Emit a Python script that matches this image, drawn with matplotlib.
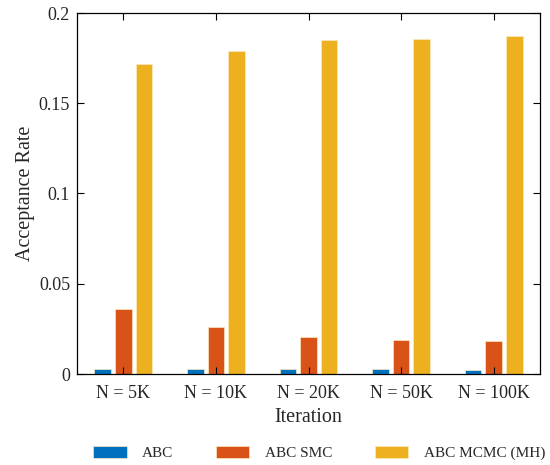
import matplotlib
matplotlib.use("Agg")
import matplotlib.pyplot as plt
import numpy as np

categories = ["N = 5K", "N = 10K", "N = 20K", "N = 50K", "N = 100K"]
series_names = ["ABC", "ABC SMC", "ABC MCMC (MH)"]
abc = [0.0029, 0.0028, 0.0025, 0.0028, 0.0022]
abc_smc = [0.0360, 0.0262, 0.0203, 0.0186, 0.0184]
abc_mcmc = [0.1720, 0.1788, 0.1850, 0.1854, 0.1873]
yticks = [0, 0.05, 0.1, 0.15, 0.2]
ytick_labels = ["0", "0.05", "0.1", "0.15", "0.2"]

colors = ["#0072BD", "#D95319", "#EDB120"]

plt.rcParams["font.family"] = ["Liberation Serif", "DejaVu Serif"]

fig = plt.figure(figsize=(5.5, 4.65), dpi=100)
ax = fig.add_axes([77 / 550, 1 - 374 / 465, (540 - 77) / 550, (374 - 13) / 465])

x = np.arange(1, len(categories) + 1)
offset = 0.223
width = 0.18
for i, (vals, name) in enumerate(zip([abc, abc_smc, abc_mcmc], series_names)):
    ax.bar(x + (i - 1) * offset, vals, width=width, color=colors[i],
           edgecolor="#fbe9c0", linewidth=0.5, label=name)

ax.set_xlim(0.5, 5.5)
ax.set_ylim(0, 0.2)
ax.set_xticks(x)
ax.set_xticklabels(categories, fontsize=13)
ax.set_yticks(yticks)
ax.set_yticklabels(ytick_labels, fontsize=13)
ax.tick_params(direction="in", top=True, right=True, length=5, width=0.8,
               colors="black", labelcolor="#262626")
ax.tick_params(axis="x", pad=8)
ax.tick_params(axis="y", pad=5)
for s in ax.spines.values():
    s.set_linewidth(0.9)

ax.set_xlabel("Iteration", fontsize=14.5, color="#262626", labelpad=4)
ax.set_ylabel("Acceptance Rate", fontsize=14.5, color="#262626", labelpad=3)

fig.legend(loc="center", bbox_to_anchor=(319 / 550, 1 - 453 / 465), ncol=3,
           frameon=False, fontsize=11, handlelength=2.2, handleheight=0.9,
           handletextpad=1.0, columnspacing=2.8, labelcolor="#262626")

fig.savefig("out.png", dpi=100)
